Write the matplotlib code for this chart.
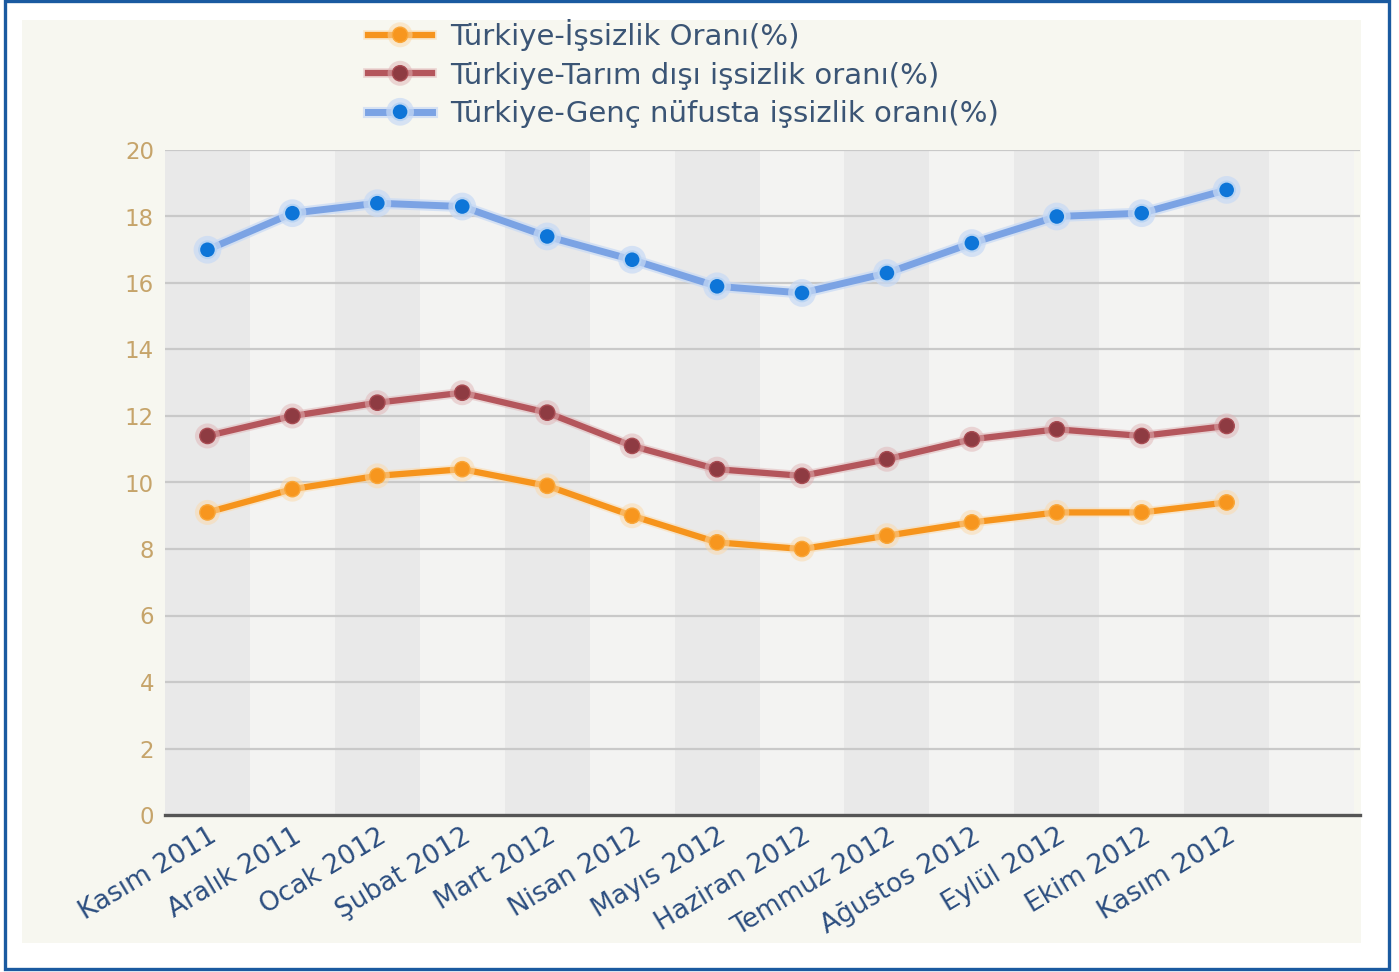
import matplotlib
matplotlib.use("Agg")
import matplotlib.pyplot as plt
import matplotlib.patheffects as pe
from matplotlib.patches import Rectangle

# Data (percent)
months = ["Kasım 2011", "Aralık 2011", "Ocak 2012", "Şubat 2012", "Mart 2012",
          "Nisan 2012", "Mayıs 2012", "Haziran 2012", "Temmuz 2012",
          "Ağustos 2012", "Eylül 2012", "Ekim 2012", "Kasım 2012"]
issizlik = [9.1, 9.8, 10.2, 10.4, 9.9, 9.0, 8.2, 8.0, 8.4, 8.8, 9.1, 9.1, 9.4]
tarim_disi = [11.4, 12.0, 12.4, 12.7, 12.1, 11.1, 10.4, 10.2, 10.7, 11.3, 11.6, 11.4, 11.7]
genc = [17.0, 18.1, 18.4, 18.3, 17.4, 16.7, 15.9, 15.7, 16.3, 17.2, 18.0, 18.1, 18.8]
yticks = list(range(0, 21, 2))

W, H = 1399, 972
fig = plt.figure(figsize=(W / 100, H / 100), dpi=100)
fig.patch.set_facecolor("white")

# outer blue frame and cream panel
fig.add_artist(Rectangle((4.5 / W, 1 - 968.5 / H), 1384.5 / W, 967.5 / H,
                         transform=fig.transFigure, fill=False,
                         edgecolor="#1a5aa0", linewidth=2.4))
fig.add_artist(Rectangle((22 / W, 1 - 943 / H), 1339 / W, 923 / H,
                         transform=fig.transFigure, facecolor="#f7f7f0",
                         edgecolor="none", zorder=0))

ax = fig.add_axes([165 / W, 1 - 815 / H, 1195 / W, 665 / H])
ax.set_facecolor("none")
x = list(range(len(months)))

# alternating vertical bands
for i in range(len(months) + 1):
    ax.axvspan(i - 0.5, i + 0.5, color="#e9e9e9" if i % 2 == 0 else "#f3f3f2",
               linewidth=0, zorder=0)

for t in yticks[1:]:
    ax.axhline(t, color="#c9c9c9", linewidth=1.6, zorder=1)
ax.axhline(0, color="#555555", linewidth=2.4, zorder=5, clip_on=False)

# series
ax.plot(x, issizlik, color="#f6941c", linewidth=4.5, marker="o", markersize=11,
        markerfacecolor="#f7961e", markeredgecolor="#f9a73a", markeredgewidth=1,
        zorder=3, label="Türkiye-İşsizlik Oranı(%)",
        path_effects=[pe.Stroke(linewidth=7, foreground="#fbd9a8", alpha=0.5), pe.Normal()])
ax.plot(x, tarim_disi, color="#b4565c", linewidth=4.5, marker="o", markersize=11,
        markerfacecolor="#8e3b42", markeredgecolor="#a84b52", markeredgewidth=1,
        zorder=3, label="Türkiye-Tarım dışı işsizlik oranı(%)",
        path_effects=[pe.Stroke(linewidth=7, foreground="#e0b4b6", alpha=0.5), pe.Normal()])
ax.plot(x, genc, color="#7ba3e4", linewidth=5, marker="o", markersize=12,
        markerfacecolor="#0d75d8", markeredgecolor="#b9d4f3", markeredgewidth=1.5,
        zorder=4, label="Türkiye-Genç nüfusta işsizlik oranı(%)",
        path_effects=[pe.Stroke(linewidth=8, foreground="#c8daf5", alpha=0.7), pe.Normal()])

ax.set_xlim(-0.5, 13.57)
ax.set_ylim(0, 20)
ax.set_yticks(yticks)
ax.set_xticks(x)
ax.set_xticklabels(months, rotation=31, ha="right", va="top",
                   rotation_mode="anchor", fontsize=19, color="#2c4e80",
                   family="DejaVu Sans")
ax.tick_params(axis="x", length=0, pad=6)
ax.tick_params(axis="y", length=0, pad=8, labelsize=16.5, labelcolor="#c6a46a")
for s in ax.spines.values():
    s.set_visible(False)

leg = fig.legend(loc="upper left", bbox_to_anchor=(368 / W, 1 - 19 / H),
                 frameon=False, handlelength=2.2, handletextpad=0.6,
                 labelspacing=0.36, borderpad=0, borderaxespad=0,
                 prop={"family": "DejaVu Sans", "size": 21})
for t in leg.get_texts():
    t.set_color("#3b5575")

fig.savefig("out.png", dpi=100)
plt.close(fig)
